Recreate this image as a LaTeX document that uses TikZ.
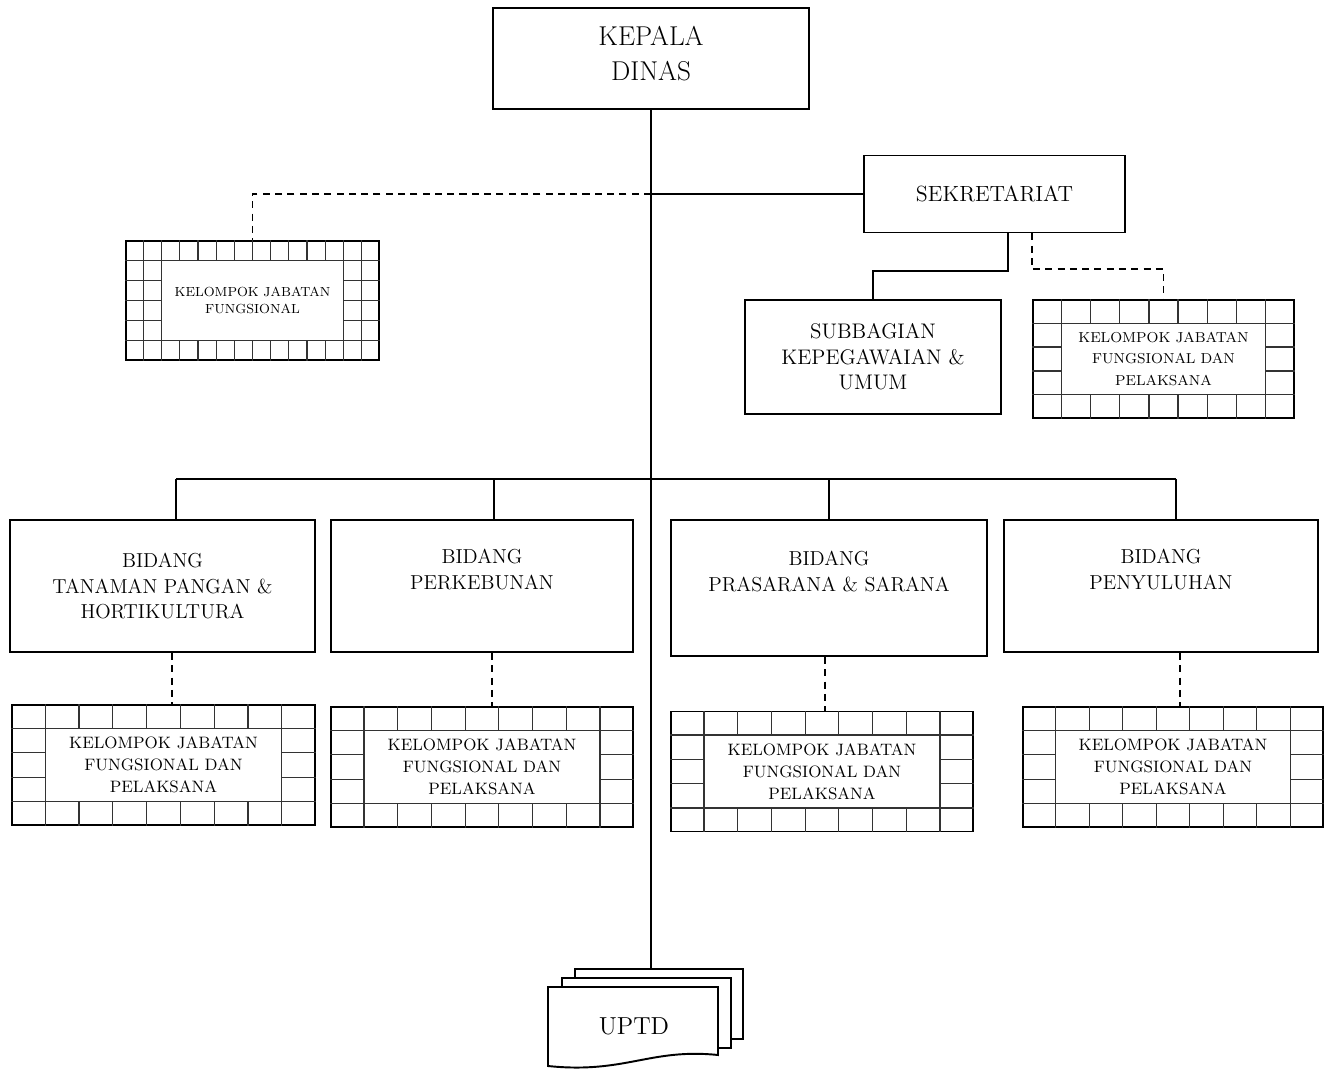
\documentclass[tikz,border=0pt]{standalone}
\usetikzlibrary{calc,positioning}

\tikzset{
  unit/.style={draw,line width=1.1pt,align=center,inner sep=2pt,font=\fontsize{11.5}{14.7}\selectfont},
  kepala/.style={unit,font=\fontsize{15.5}{19.8}\selectfont},
  kjf/.style={draw,line width=0.8pt,align=center,inner sep=0pt,font=\fontsize{9.4}{12.5}\selectfont},
  gridline/.style={line width=0.7pt,draw=black!80},
  link/.style={line width=1.1pt},
  dashlink/.style={link,dash pattern=on 4pt off 3pt},
  sheet/.style={draw,line width=1.1pt,fill=white}
}

% grid border of a "kelompok jabatan" box: node, columns, rows, side columns
\newcommand{\kjfgrid}[4]{%
  \pgfmathtruncatemacro{\lastcol}{#2-1}
  \pgfmathtruncatemacro{\lastrow}{#3-1}
  \foreach \gcol in {1,...,\lastcol}
    \draw[gridline] let \p1=(#1.north west), \p2=(#1.south east),
        \n1={(\x2-\x1)/#2}, \n2={(\y1-\y2)/#3} in
      ({\x1+\gcol*\n1},\y1) -- ({\x1+\gcol*\n1},{\y1-\n2})
      ({\x1+\gcol*\n1},\y2) -- ({\x1+\gcol*\n1},{\y2+\n2});
  \foreach \grow in {1,...,\lastrow}
    \draw[gridline] let \p1=(#1.north west), \p2=(#1.south east),
        \n1={(\x2-\x1)/#2}, \n2={(\y1-\y2)/#3} in
      (\x1,{\y1-\grow*\n2}) -- ({\x1+#4*\n1},{\y1-\grow*\n2})
      (\x2,{\y1-\grow*\n2}) -- ({\x2-#4*\n1},{\y1-\grow*\n2});
  \draw[gridline] let \p1=(#1.north west), \p2=(#1.south east),
      \n1={(\x2-\x1)/#2}, \n2={(\y1-\y2)/#3} in
    ({\x1+#4*\n1},{\y1-\n2}) rectangle ({\x2-#4*\n1},{\y2+\n2});
  \ifnum#4>1
    \draw[gridline] let \p1=(#1.north west), \p2=(#1.south east),
        \n1={(\x2-\x1)/#2} in
      ({\x1+\n1},\y1) -- ({\x1+\n1},\y2) ({\x2-\n1},\y1) -- ({\x2-\n1},\y2);
  \fi
}

\begin{document}
\begin{tikzpicture}[x=0.02cm,y=-0.02cm]
\useasboundingbox (0,0) rectangle (1328,1070);

\node[kepala,minimum width=6.32cm,minimum height=2.02cm] (kepala) at (651,58.5) {KEPALA\\DINAS\\[-14pt]\mbox{}};
\node[unit,font=\fontsize{12.5}{15}\selectfont,minimum width=5.22cm,minimum height=1.54cm] (sek) at (994.5,194) {SEKRETARIAT};
\node[unit,font=\fontsize{12}{14.5}\selectfont,minimum width=5.12cm,minimum height=2.28cm] (sub) at (873,357) {SUBBAGIAN\\KEPEGAWAIAN \&\\UMUM};

\node[kjf,font=\fontsize{7.5}{9.6}\selectfont,minimum width=5.06cm,minimum height=2.38cm] (kjf0) at (252.5,300.5) {KELOMPOK JABATAN\\FUNGSIONAL};
\kjfgrid{kjf0}{14}{6}{2}
\node[kjf,font=\fontsize{8.2}{12.5}\selectfont,minimum width=5.22cm,minimum height=2.36cm] (kjfsek) at (1163.5,359) {KELOMPOK JABATAN\\FUNGSIONAL DAN\\PELAKSANA};
\kjfgrid{kjfsek}{9}{5}{1}

% trunk and sekretariat
\coordinate (uptdtop) at (651,969);
\draw[link] (kepala.south) -- (uptdtop);
\draw[link] (sek.west) -- (sek.west -| kepala.south);
\draw[dashlink] (sek.west -| kepala.south) -| (kjf0.north);
\draw[link] ([xshift=0.27cm]sek.south) -- ++(0,38) -| (sub.north);
\draw[dashlink] ([xshift=0.75cm]sek.south) -- ++(0,36) -| (kjfsek.north);

% bidang
\foreach \x/\y/\w/\h/\bo/\txt [count=\k] in
  {162.5/586/6.10/2.64/13.5/{BIDANG\\TANAMAN PANGAN \&\\HORTIKULTURA},
   482/586/6.04/2.64/12/{BIDANG\\PERKEBUNAN\\\strut},
   829/588/6.32/2.72/0/{BIDANG\\PRASARANA \& SARANA\\\strut},
   1161/586/6.28/2.64/15/{BIDANG\\PENYULUHAN\\\strut}}
{
  \node[unit,minimum width=\w cm,minimum height=\h cm] (bid\k) at (\x,\y) {\txt};
  \draw[link] ([xshift=\bo*0.02cm]bid\k.north) -- ++(0,-40) coordinate (bus\k);
}
\draw[link] (bus1) -- (bus4);

\foreach \x/\y/\w/\o [count=\k] in {163.5/765/6.06/9.5, 482/767/6.04/10, 822/771.5/6.04/-4, 1173/767/6.00/19}
{
  \node[kjf,minimum width=\w cm,minimum height=2.40cm] (kjf\k) at (\x,\y) {KELOMPOK JABATAN\\FUNGSIONAL DAN\\PELAKSANA};
  \kjfgrid{kjf\k}{9}{5}{1}
  \draw[dashlink] ([xshift=\o*0.02cm]bid\k.south) -- ([xshift=\o*0.02cm]bid\k.south |- kjf\k.north);
}

% uptd sheets
\draw[sheet] (575,969) rectangle (743,1039);
\draw[sheet] (562,978) rectangle (731,1048);
\draw[sheet] (548,987) -- (718,987) -- (718,1055) .. controls (650,1048) and (625,1074) .. (548,1066) -- cycle;
\node[font=\fontsize{14}{16}\selectfont] (uptd) at (634,1026) {UPTD};
\end{tikzpicture}
\end{document}
